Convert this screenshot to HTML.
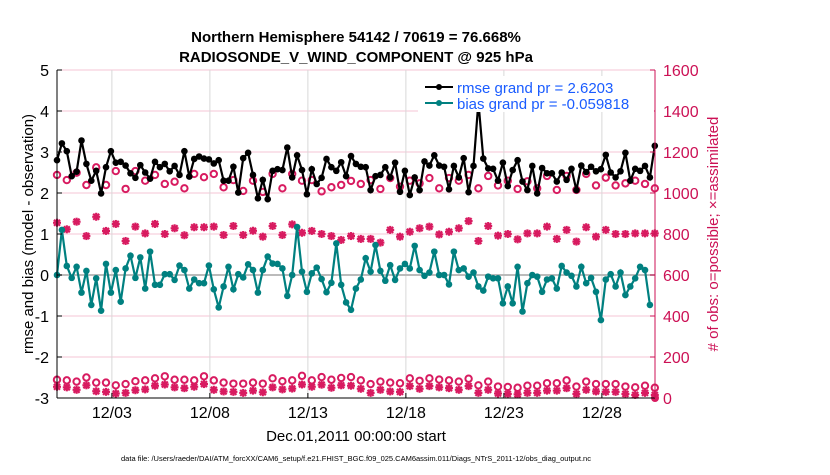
<!DOCTYPE html>
<html><head><meta charset="utf-8"><style>
body{margin:0;background:#fff;width:830px;height:470px;overflow:hidden;font-family:"Liberation Sans",sans-serif}
svg text{font-family:"Liberation Sans",sans-serif}
</style></head><body>
<svg id="chart" width="830" height="470" viewBox="0 0 830 470" xmlns="http://www.w3.org/2000/svg">
<text x="356" y="42" text-anchor="middle" font-size="15" font-weight="bold">Northern Hemisphere 54142 / 70619 = 76.668%</text>
<text x="356" y="62" text-anchor="middle" font-size="15" font-weight="bold">RADIOSONDE_V_WIND_COMPONENT @ 925 hPa</text>
<g id="grid"></g>
<g id="marks"></g>
<g id="axes"></g>
<text transform="translate(33,234) rotate(-90)" text-anchor="middle" font-size="15">rmse and bias (model - observation)</text>
<text transform="translate(718,234) rotate(-90)" text-anchor="middle" font-size="15" fill="#cc1155"># of obs: o=possible; ×=assimilated</text>
<text x="356" y="441" text-anchor="middle" font-size="15">Dec.01,2011 00:00:00 start</text>
<text x="356" y="461" text-anchor="middle" font-size="7.5">data file: /Users/raeder/DAI/ATM_forcXX/CAM6_setup/f.e21.FHIST_BGC.f09_025.CAM6assim.011/Diags_NTrS_2011-12/obs_diag_output.nc</text>
<g>
<rect x="418" y="76" width="236" height="36" fill="#fff"/>
<line x1="425" y1="87" x2="453" y2="87" stroke="#000" stroke-width="2"/><circle cx="439" cy="87" r="3" fill="#000"/>
<text x="457" y="93" font-size="15" fill="#1a5cff">rmse grand pr = 2.6203</text>
<line x1="425" y1="103" x2="453" y2="103" stroke="#008080" stroke-width="2"/><circle cx="439" cy="103" r="3" fill="#008080"/>
<text x="457" y="109" font-size="15" fill="#1a5cff">bias grand pr = -0.059818</text>
</g>
</svg>
<script>
const rmse=[2.80,3.21,3.02,2.41,2.52,3.28,2.71,2.30,2.54,1.99,2.63,3.02,2.74,2.76,2.67,2.48,2.37,2.68,2.50,2.35,2.76,2.63,2.71,2.53,2.66,2.44,3.02,2.40,2.83,2.89,2.84,2.82,2.72,2.80,2.30,2.30,2.64,2.01,2.85,2.98,2.44,1.87,2.32,1.85,2.54,2.58,2.56,3.11,2.38,2.92,2.56,1.97,2.58,2.22,2.37,2.83,2.63,2.54,2.75,2.41,
2.90,2.71,2.64,2.63,2.07,2.41,2.44,2.63,2.38,2.74,2.03,2.54,1.95,2.38,2.07,2.77,2.67,2.92,2.67,2.64,2.09,2.66,2.38,2.85,2.02,2.66,4.22,2.84,2.60,2.59,2.30,2.74,2.17,2.56,2.80,2.28,2.07,2.66,1.99,2.61,2.48,2.48,2.28,2.50,2.32,2.59,2.07,2.67,2.51,2.64,2.53,2.58,2.93,2.50,2.38,2.53,2.98,2.30,2.59,2.54,2.66,2.38,3.15];
const bias=[0,1.10,0.22,-0.07,0.20,-0.43,0.10,-0.73,-0.08,-0.87,0.27,-0.43,0.12,-0.65,0.16,0.47,-0.07,0.43,-0.33,0.57,-0.24,-0.24,0.02,0.02,-0.12,0.23,0.12,-0.33,-0.11,-0.20,-0.20,0.23,-0.35,-0.79,-0.28,0.20,-0.35,0.02,-0.06,0.26,0.12,-0.43,0.12,0.45,0.28,0.27,0.16,-0.51,0,1.17,0.08,-0.41,0.04,0.18,-0.10,-0.42,-0.19,0.77,-0.24,-0.67,
-0.85,-0.33,-0.11,0.41,0.08,0.73,0.10,-0.14,0.24,-0.12,0.16,0.27,0.16,0.71,0.12,-0.02,0.06,0.57,0,0,-0.23,0.57,0.12,0.16,-0.04,0.06,-0.28,-0.38,-0.04,-0.08,-0.08,-0.69,-0.28,-0.69,0.20,-0.89,-0.20,0,-0.04,-0.41,-0.11,-0.08,-0.33,0.22,0.06,-0.02,-0.28,0.20,-0.20,-0.07,-0.41,-1.10,-0.11,0.02,-0.28,0.06,-0.49,-0.28,-0.08,0.20,0.12,-0.73];
const possible=[1088,1063,1099,1039,1125,1039,1107,1020,1107,1060,1088,1044,1055,1023,1093,1077,1093,1028,1063,1010,1060,1005,1093,1023,1093,1060,1063,1008,1028,1039,1059,1044,
1063,1020,1073,1031,1060,1047,1073,1023,1073,1060,1088,1023,1083,1037,1060,1020,1057,1023,1083,1015,1083,1015,1093,1037,1075,1037,1047,1060,1044,1023];
const assimilated=[855,823,860,790,884,815,849,766,836,803,849,800,828,794,833,833,836,795,839,795,816,787,839,795,847,806,815,800,790,771,790,776,
776,758,820,787,811,828,836,798,811,828,863,766,839,792,800,774,803,803,836,776,820,763,833,787,820,800,800,803,803,803];
const possibleLow=[89,86,80,100,75,75,62,68,82,86,96,106,89,89,86,106,86,75,70,70,75,70,96,82,86,108,86,102,89,98,102,86,
68,80,75,72,96,84,96,90,86,80,94,62,80,56,54,50,60,60,72,72,86,56,80,68,68,68,56,52,60,50];
const assimLow=[55,52,40,62,33,30,22,25,38,42,60,66,52,48,55,68,40,32,30,25,36,28,52,42,46,66,55,65,50,62,60,45,25,40,32,30,58,45,58,52,48,40,58,25,40,22,20,18,25,25,36,36,48,20,40,32,30,30,20,15,25,15];
const leftTicks=[5,4,3,2,1,0,-1,-2,-3];
const rightTicks=[1600,1400,1200,1000,800,600,400,200,0];
const dateTickDays=[2.8,7.8,12.8,17.8,22.8,27.8];
const dateTickLabels=["12/03","12/08","12/13","12/18","12/23","12/28"];

const NS="http://www.w3.org/2000/svg";
const X0=57,X1=655,Y0=70,Y1=398;
const xDay=d=>X0+d*19.6;
const yL=v=>Y1-(v+3)*(Y1-Y0)/8;
const yR=v=>Y1-v*(Y1-Y0)/1600;
function mk(tag,attrs,parent){const e=document.createElementNS(NS,tag);for(const k in attrs)e.setAttribute(k,attrs[k]);parent.appendChild(e);return e;}
const grid=document.getElementById('grid'),marks=document.getElementById('marks'),axes=document.getElementById('axes');

leftTicks.forEach(v=>{const y=yL(v);
 const g=mk('line',{x1:X0,x2:X1,y1:y,y2:y,stroke:'#f4c6d6','stroke-width':1},grid);
 
 
 const t=mk('line',{x1:X0,x2:X0+5,y1:y,y2:y,stroke:'#000'},axes);
 
 
 const l=mk('text',{x:X0-8,y:y+6,'text-anchor':'end','font-size':16},axes);l.textContent=v;
 
 
});
rightTicks.forEach(v=>{const y=yR(v);
 const t=mk('line',{x1:X1-5,x2:X1,y1:y,y2:y,stroke:'#cc1155'},axes);
 
 
 const l=mk('text',{x:X1+8,y:y+6,'font-size':16,fill:'#cc1155'},axes);l.textContent=v;
 
 
});
dateTickDays.forEach((d,i)=>{const x=xDay(d);
 const g=mk('line',{x1:x,x2:x,y1:Y0,y2:Y1,stroke:'#d8d8d8'},grid);
 
 
 const t=mk('line',{x1:x,x2:x,y1:Y1-5,y2:Y1,stroke:'#000'},axes);
 
 
 const l=mk('text',{x:x,y:Y1+20,'text-anchor':'middle','font-size':16},axes);l.textContent=dateTickLabels[i];
 
 
});
const zl=mk('line',{x1:X0,x2:X1,y1:yL(0),y2:yL(0),stroke:'#bbb','stroke-width':2},grid);


const la=mk('line',{x1:X0,x2:X0,y1:Y0,y2:Y1,stroke:'#000'},axes);


const ba=mk('line',{x1:X0,x2:X1,y1:Y1,y2:Y1,stroke:'#000'},axes);


const ra=mk('line',{x1:X1,x2:X1,y1:Y0,y2:Y1,stroke:'#cc1155'},axes);



function star(x,y,name){const g=mk('g',{stroke:'#d81b60','stroke-width':2.2},marks);
 
 
 mk('line',{x1:x-4,x2:x+4,y1:y,y2:y},g);mk('line',{x1:x,x2:x,y1:y-4,y2:y+4},g);
 mk('line',{x1:x-3,x2:x+3,y1:y-3,y2:y+3},g);mk('line',{x1:x-3,x2:x+3,y1:y+3,y2:y-3},g);}
function ring(x,y,name){const c=mk('circle',{cx:x,cy:y,r:3.2,fill:'none',stroke:'#d81b60','stroke-width':2},marks);
 
 }
possible.forEach((v,i)=>ring(xDay(i*0.5),yR(v),'possible-marker'));
assimilated.forEach((v,i)=>star(xDay(i*0.5),yR(v),'assimilated-marker'));
possibleLow.forEach((v,i)=>ring(xDay(i*0.5),yR(v),'possible-low-marker'));
assimLow.forEach((v,i)=>star(xDay(i*0.5),yR(v),'assimilated-low-marker'));
const endDot=mk('circle',{cx:X1,cy:yR(0),r:4,fill:'#d81b60'},marks);



function series(arr,color,name){
 const pts=arr.map((v,i)=>xDay(i*0.25).toFixed(1)+','+yL(v).toFixed(1)).join(' ');
 const p=mk('polyline',{points:pts,fill:'none',stroke:color,'stroke-width':2.2},marks);
 
 
 arr.forEach((v,i)=>{const c=mk('circle',{cx:xDay(i*0.25),cy:yL(v),r:3.3,fill:color},marks);
  
  });
}
series(bias,'#008080','bias');
series(rmse,'#000000','rmse');
</script>
</body></html>
